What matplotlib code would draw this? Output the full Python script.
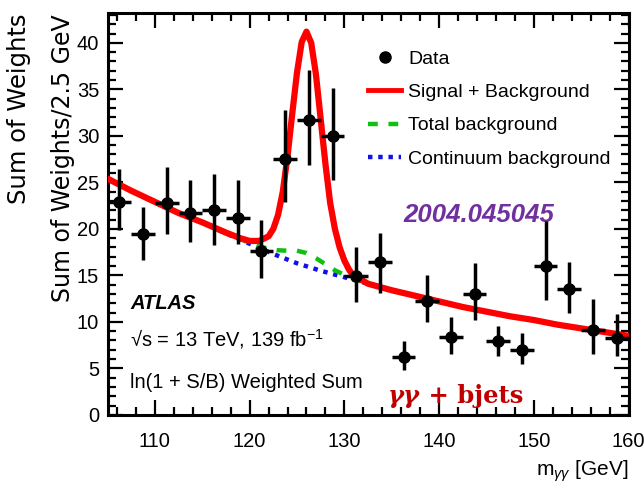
import matplotlib
matplotlib.use('Agg')
import matplotlib.pyplot as plt
from matplotlib.lines import Line2D
from matplotlib.ticker import MultipleLocator

# ================= data =================
bin_centers = [106.25, 108.75, 111.25, 113.75, 116.25, 118.75, 121.25, 123.75,
               126.25, 128.75, 131.25, 133.75, 136.25, 138.75, 141.25, 143.75,
               146.25, 148.75, 151.25, 153.75, 156.25, 158.75]
data_y = [22.9, 19.4, 22.8, 21.7, 22.0, 21.2, 17.6, 27.5, 31.7, 30.0, 14.9,
          16.4, 6.2, 12.2, 8.4, 13.0, 7.9, 7.0, 16.0, 13.5, 9.1, 8.3]
err_up = [3.5, 3.0, 3.9, 3.5, 3.9, 4.0, 3.4, 5.3, 5.4, 5.1, 3.1,
          3.2, 1.7, 2.8, 2.1, 3.3, 1.7, 1.8, 4.8, 2.9, 3.4, 2.5]
err_down = [3.0, 2.7, 3.4, 3.1, 3.7, 2.8, 2.9, 4.6, 4.8, 4.7, 2.8,
            3.3, 1.4, 2.2, 1.8, 2.8, 1.6, 1.5, 3.6, 2.5, 2.5, 2.0]
bin_half = 1.25

# continuum background (blue dotted)
cont_x = [105, 107.5, 110, 112.5, 115, 117.5, 120, 122.5, 125, 127.5, 130,
          132.5, 135, 137.5, 140, 142.5, 145, 147.5, 150, 152.5, 155, 157.5, 160]
cont_y = [25.4, 24.1, 22.9, 21.7, 20.7, 19.5, 18.4, 17.3, 16.3, 15.5, 14.8,
          14.1, 13.4, 12.8, 12.2, 11.6, 11.1, 10.6, 10.2, 9.7, 9.3, 8.9, 8.5]

# total background (green dashed), continuum + single Higgs bump
tot_x = [105, 107.5, 110, 112.5, 115, 117.5, 120, 121, 122, 123, 124, 125,
         126, 127, 128, 129, 130, 131, 132.5, 135, 137.5, 140, 142.5, 145,
         147.5, 150, 152.5, 155, 157.5, 160]
tot_y = [25.4, 24.1, 22.9, 21.7, 20.7, 19.5, 18.5, 18.15, 17.85, 17.7, 17.65,
         17.65, 17.4, 16.85, 16.2, 15.55, 15.05, 14.6, 14.1, 13.4, 12.8, 12.2,
         11.6, 11.1, 10.6, 10.2, 9.7, 9.3, 8.9, 8.5]

# signal + background (red)
sb_x = [105, 107.5, 110, 112.5, 115, 117.5, 119, 120, 121, 122, 122.5, 123,
        123.5, 124, 124.5, 125, 125.5, 126, 126.5, 127, 127.5, 128, 128.5,
        129, 129.5, 130, 130.5, 131, 132, 132.5, 135, 137.5, 140, 142.5, 145,
        147.5, 150, 152.5, 155, 157.5, 160]
sb_y = [25.4, 24.1, 22.9, 21.7, 20.7, 19.6, 19.0, 18.7, 18.7, 19.2, 20.0, 21.5,
        24.0, 27.8, 32.4, 36.8, 40.1, 41.2, 40.0, 36.6, 31.8, 27.0, 22.8,
        20.0, 18.0, 16.6, 15.6, 14.9, 14.4, 14.1, 13.4, 12.8, 12.2, 11.6, 11.1,
        10.6, 10.2, 9.7, 9.3, 8.9, 8.5]

plt.rcParams['font.family'] = ['Liberation Sans', 'DejaVu Sans']
plt.rcParams['mathtext.fontset'] = 'custom'
plt.rcParams['mathtext.rm'] = 'Liberation Sans'
plt.rcParams['mathtext.it'] = 'Liberation Sans:italic'

fig = plt.figure(figsize=(6.44, 4.83), dpi=100)
ax = fig.add_axes([0.167, 0.141, 0.809, 0.832])

ax.plot(cont_x, cont_y, color='#1010ee', lw=3.2, dashes=(1.0, 1.3), zorder=2)
ax.plot(tot_x, tot_y, color='#10c010', lw=3.2, dashes=(2.2, 2.4), zorder=3)
ax.plot(sb_x, sb_y, color='#ff0000', lw=4.5, zorder=4, solid_joinstyle='round')

ax.errorbar(bin_centers, data_y, yerr=[err_down, err_up], xerr=bin_half,
            fmt='o', color='black', markersize=8, elinewidth=2.5,
            capsize=0, zorder=5)

ax.set_xlim(105, 160)
ax.set_ylim(0, 43.2)
ax.xaxis.set_major_locator(MultipleLocator(10))
ax.xaxis.set_minor_locator(MultipleLocator(2))
ax.yaxis.set_major_locator(MultipleLocator(5))
ax.yaxis.set_minor_locator(MultipleLocator(1))
ax.tick_params(which='both', direction='in', top=True, right=True, width=1.6,
               labelsize=14.5)
ax.tick_params(which='major', length=11)
ax.tick_params(which='minor', length=6)
ax.tick_params(axis='x', pad=12)
ax.tick_params(axis='y', pad=6)
for sp in ax.spines.values():
    sp.set_linewidth(2.2)

ax.set_xlabel(r'm$_{\gamma\gamma}$ [GeV]', fontsize=15, loc='right', labelpad=6)

fig.text(63 / 644, 1 - 14 / 483, 'Sum of Weights/2.5 GeV', rotation=90,
         ha='center', va='top', fontsize=17, family='DejaVu Sans')
fig.text(19 / 644, 1 - 14 / 483, 'Sum of Weights', rotation=90,
         ha='center', va='top', fontsize=17.5, family='DejaVu Sans')

# legend
handles = [
    Line2D([], [], color='black', marker='o', markersize=8, linestyle='none'),
    Line2D([], [], color='#ff0000', lw=3.5),
    Line2D([], [], color='#10c010', lw=3.2, dashes=(2.2, 2.4)),
    Line2D([], [], color='#1010ee', lw=3.2, dashes=(1.0, 1.3)),
]
labels = ['Data', 'Signal + Background', 'Total background',
          'Continuum background']
ax.legend(handles, labels, loc='upper left', bbox_to_anchor=(0.50, 0.908),
          frameon=False, fontsize=14, handlelength=1.7, handletextpad=0.35,
          labelspacing=0.81, borderpad=0, borderaxespad=0)

ax.text(107.4, 12.0, 'ATLAS', fontsize=14.5, fontweight='bold', style='italic',
        va='center')
ax.text(107.4, 8.1, '√s = 13 TeV, 139 fb$^{-1}$', fontsize=14.5, va='center')
ax.text(107.4, 3.5, 'ln(1 + S/B) Weighted Sum', fontsize=14.5, va='center')

ax.text(136.2, 21.5, '2004.045045', fontsize=18.5, fontweight='bold',
        style='italic', color='#7030a0', va='center')

t1 = ax.text(134.6, 2.0, 'γγ', fontsize=17.5, fontweight='bold', style='italic',
             color='#c00000', family='DejaVu Serif', va='center')
ax.annotate(' + bjets', xy=(1, 0.5), xycoords=t1, va='center', ha='left',
            fontsize=17.5, fontweight='bold', color='#c00000',
            family='DejaVu Serif')

plt.savefig('out.png', dpi=100)
